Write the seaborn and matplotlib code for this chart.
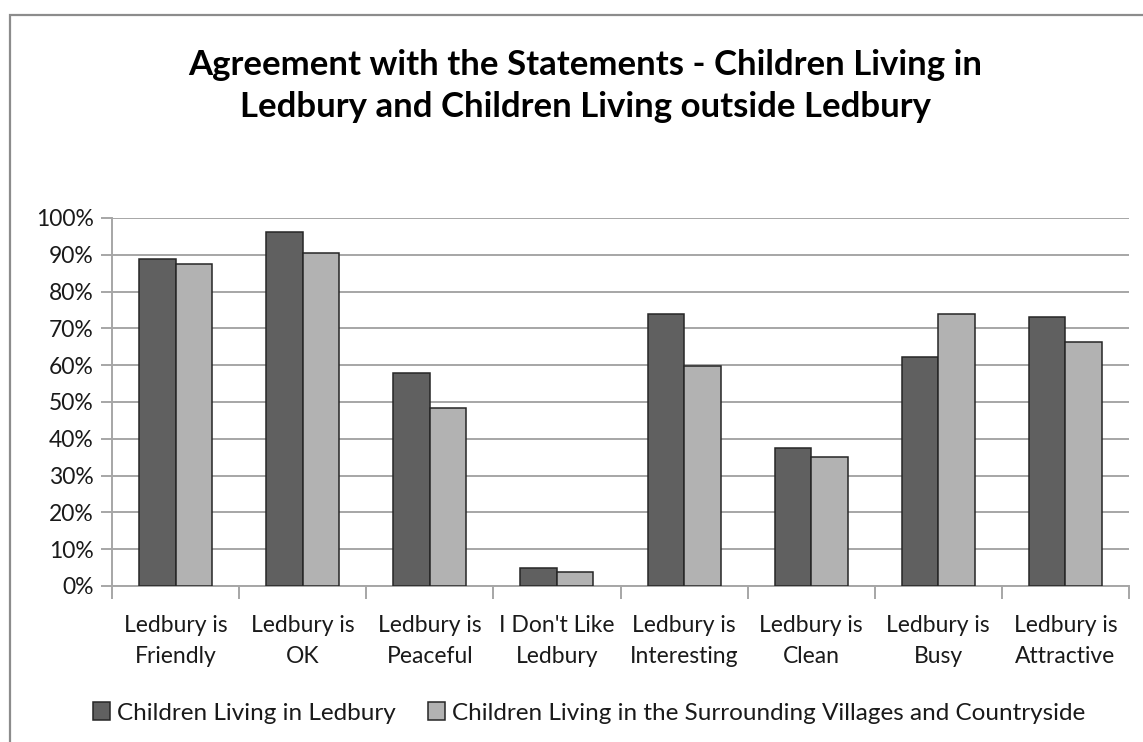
import matplotlib
matplotlib.use("Agg")
import matplotlib.pyplot as plt
import seaborn as sns
import pandas as pd
from matplotlib.patches import Rectangle, Patch
from matplotlib.ticker import PercentFormatter, FixedLocator

categories = ["Ledbury is\nFriendly", "Ledbury is\nOK", "Ledbury is\nPeaceful", "I Don't Like\nLedbury",
              "Ledbury is\nInteresting", "Ledbury is\nClean", "Ledbury is\nBusy", "Ledbury is\nAttractive"]
ledbury = [88.8, 96.2, 57.8, 4.8, 73.9, 37.6, 62.3, 73.1]
outside = [87.5, 90.6, 48.4, 3.8, 59.9, 35.1, 73.9, 66.2]
series_names = ["Children Living in Ledbury", "Children Living in the Surrounding Villages and Countryside"]
title = "Agreement with the Statements - Children Living in\nLedbury and Children Living outside Ledbury"

df = pd.DataFrame({
    "cat": categories * 2,
    "val": ledbury + outside,
    "series": [series_names[0]] * len(categories) + [series_names[1]] * len(categories),
})

sns.set_theme(style="white")
plt.rcParams['font.family'] = ['Lato', 'DejaVu Sans']

W, H = 1143, 742
fig = plt.figure(figsize=(W / 100, H / 100), dpi=100)
ax = fig.add_axes([112 / W, 1 - 586 / H, (1129 - 112) / W, (586 - 218) / H])

colors = ["#606060", "#b2b2b2"]
sns.barplot(data=df, x="cat", y="val", hue="series", palette=colors, width=0.575,
            edgecolor="#262626", linewidth=1.1, ax=ax, legend=False, zorder=3)

ax.set_ylim(0, 100)
ax.set_xlim(-0.5, len(categories) - 0.5)
ax.yaxis.set_major_locator(FixedLocator(range(0, 101, 10)))
ax.yaxis.set_major_formatter(PercentFormatter(decimals=0))
ax.grid(axis="y", color="#a6a6a6", linewidth=1.4, zorder=0)
ax.grid(axis="x", visible=False)
ax.set_xlabel("")
ax.set_ylabel("")

for s in ["top", "right"]:
    ax.spines[s].set_visible(False)
for s in ["left", "bottom"]:
    ax.spines[s].set_color("#a6a6a6")
    ax.spines[s].set_linewidth(1.4)

# x ticks at category boundaries, labels centered
ax.set_xticks([i - 0.5 for i in range(len(categories) + 1)], minor=False)
ax.set_xticklabels([""] * (len(categories) + 1))
ax.set_xticks(range(len(categories)), minor=True)
ax.set_xticklabels(categories, minor=True)
ax.tick_params(axis="x", which="major", length=9, width=1.4, color="#a6a6a6", direction="out", bottom=True)
ax.tick_params(axis="x", which="minor", length=0, pad=21, labelsize=16.5, labelcolor="#1a1a1a")
ax.tick_params(axis="y", length=8, width=1.4, color="#a6a6a6", direction="out", left=True,
               labelsize=16.5, labelcolor="#1a1a1a", pad=5)
for lab in ax.get_xticklabels(minor=True):
    lab.set_linespacing(1.55)

fig.text(0.5 * (188 + 982) / W, 1 - 86 / H, title, ha="center", va="center",
         fontsize=25, fontweight="bold", color="black", linespacing=1.42)

handles = [Patch(facecolor=c, edgecolor="#262626", linewidth=1.1) for c in colors]
fig.legend(handles, series_names, loc="center", bbox_to_anchor=(589 / W, 1 - 713 / H), ncol=2,
           frameon=False, fontsize=17.5, handlelength=0.7, handleheight=0.7, handletextpad=0.3,
           columnspacing=1.3, labelcolor="#1a1a1a")

fig.patches.append(Rectangle((10 / W, -0.05), 1.2, 1 - 15 / H + 0.05, transform=fig.transFigure,
                             fill=False, edgecolor="#8c8c8c", linewidth=1.6, zorder=0))

fig.savefig("out.png", dpi=100, facecolor="white")
